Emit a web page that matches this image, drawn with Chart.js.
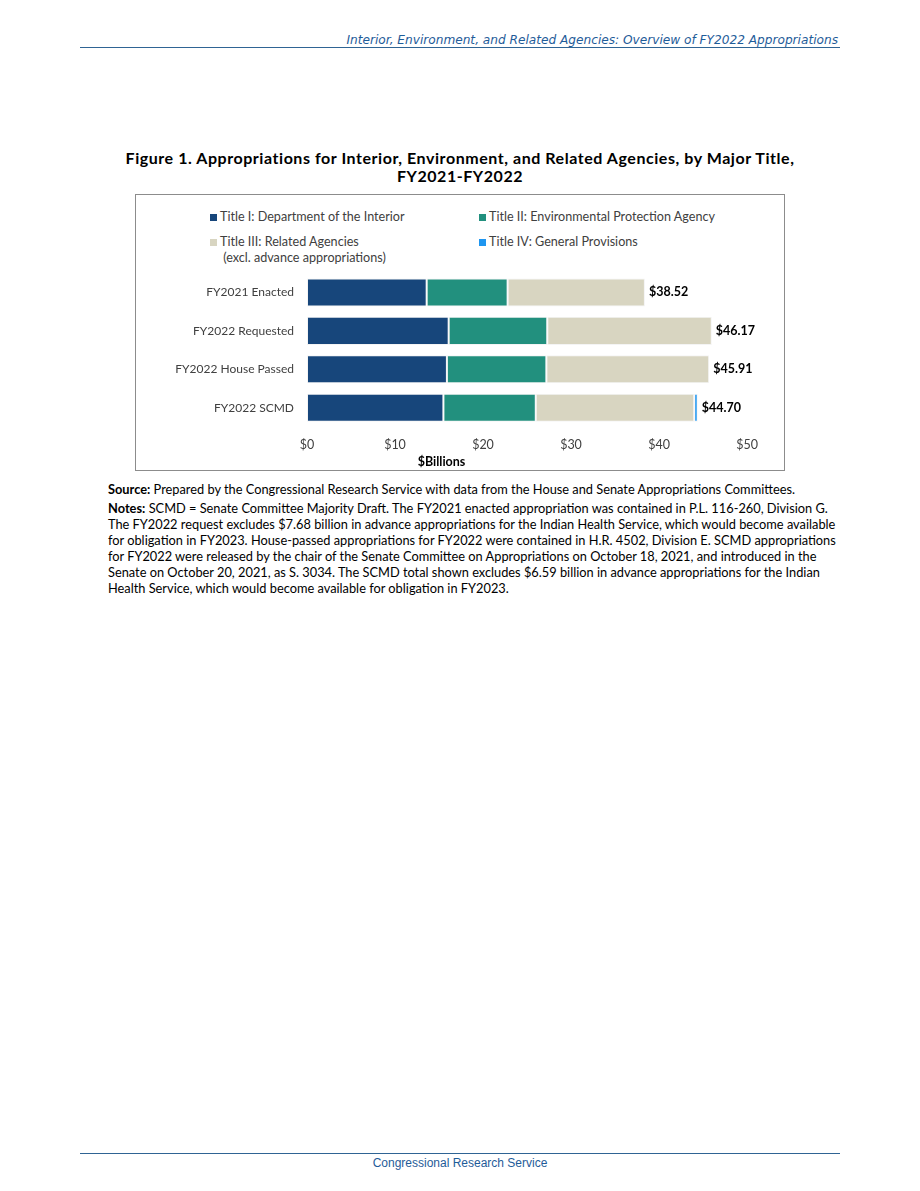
<!DOCTYPE html>
<html lang="en">
<head>
<meta charset="UTF-8">
<title>Figure 1. Appropriations for Interior, Environment, and Related Agencies</title>
<script src="https://cdn.jsdelivr.net/npm/chart.js"></script>
<style>
    body { margin: 0; background: #fff; }
    .page { position: relative; width: 920px; height: 1191px; font-family: Lato, "Open Sans", sans-serif; }
    .runhead { position: absolute; left: 80px; top: 33px; width: 758px; text-align: right;
               font-family: "DejaVu Sans", Verdana, sans-serif; font-style: italic; font-size: 12.15px; color: #1f5c99; }
    .rule { position: absolute; left: 80px; width: 760px; height: 0; border-top: 1px solid #2f6494; }
    .figtitle { position: absolute; left: 80px; width: 760px; text-align: center;
                font-weight: bold; font-size: 16px; letter-spacing: 0.55px; line-height: 18px; color: #000; }
    .box { position: absolute; left: 135px; top: 194px; width: 648px; height: 275px; border: 1px solid #8c8c8c; }
    .leg { position: absolute; font-size: 12.6px; color: #404040; line-height: 16px; white-space: nowrap; }
    .leg i { position: absolute; left: -10px; top: 5px; width: 7px; height: 7px; }
    #chartWrap { position: absolute; left: 0; top: 58px; width: 648px; height: 217px; }
    .notes { position: absolute; left: 108px; top: 481px; width: 740px; font-size: 12.8px; line-height: 16px; color: #000; }
    .notes p { margin: 0 0 3px 0; }
    .foot { position: absolute; left: 80px; width: 760px; top: 1156px; text-align: center;
            font-family: "Liberation Sans", Arial, sans-serif; font-size: 12px; color: #1f5c99; }
</style>
</head>
<body>
<div class="page">
    <div class="runhead">Interior, Environment, and Related Agencies: Overview of FY2022 Appropriations</div>
    <div class="rule" style="top:47px"></div>

    <div class="figtitle" style="top:149px">Figure 1. Appropriations for Interior, Environment, and Related Agencies, by Major Title,</div>
    <div class="figtitle" style="top:167px">FY2021-FY2022</div>

    <div class="box">
        <div id="legend"></div>
        <div id="chartWrap"><canvas id="chart"></canvas></div>
    </div>

    <div class="notes">
        <p><b>Source:</b> Prepared by the Congressional Research Service with data from the House and Senate Appropriations Committees.</p>
        <p><b>Notes:</b> SCMD = Senate Committee Majority Draft. The FY2021 enacted appropriation was contained in P.L. 116-260, Division G.<br>
        The FY2022 request excludes $7.68 billion in advance appropriations for the Indian Health Service, which would become available<br>
        for obligation in FY2023. House-passed appropriations for FY2022 were contained in H.R. 4502, Division E. SCMD appropriations<br>
        for FY2022 were released by the chair of the Senate Committee on Appropriations on October 18, 2021, and introduced in the<br>
        Senate on October 20, 2021, as S. 3034. The SCMD total shown excludes $6.59 billion in advance appropriations for the Indian<br>
        Health Service, which would become available for obligation in FY2023.</p>
    </div>

    <div class="rule" style="top:1153px"></div>
    <div class="foot">Congressional Research Service</div>
</div>

<script>
// data ($ billions)
const categories = ['FY2021 Enacted', 'FY2022 Requested', 'FY2022 House Passed', 'FY2022 SCMD'];
const titleI   = [13.6, 16.1, 15.9, 15.5];
const titleII  = [9.2, 11.2, 11.3, 10.5];
const titleIII = [15.6, 18.7, 18.5, 18.0];
const titleIV  = [0, 0, 0, 0.4];
const totalLabels = ['$38.52', '$46.17', '$45.91', '$44.70'];
const xTicks = [0, 10, 20, 30, 40, 50];

const series = [
    { label: 'Title I: Department of the Interior', data: titleI, color: '#17467b' },
    { label: 'Title II: Environmental Protection Agency', data: titleII, color: '#22907e' },
    { label: ['Title III: Related Agencies', '(excl. advance appropriations)'], data: titleIII, color: '#d8d5c1' },
    { label: 'Title IV: General Provisions', data: titleIV, color: '#1e96f0' }
];

// legend (two columns, as in the figure)
const legendPos = [[84, 14], [353, 14], [84, 39], [353, 39]];
const legendEl = document.getElementById('legend');
series.forEach((s, i) => {
    const d = document.createElement('div');
    d.className = 'leg';
    d.style.left = legendPos[i][0] + 'px';
    d.style.top = legendPos[i][1] + 'px';
    const txt = Array.isArray(s.label) ? s.label[0] + '<br>&nbsp;' + s.label[1] : s.label;
    d.innerHTML = '<i style="background:' + s.color + '"></i>' + txt;
    legendEl.appendChild(d);
});

const totalsPlugin = {
    id: 'totals',
    afterDatasetsDraw(chart) {
        const ctx = chart.ctx;
        const xs = chart.scales.x, ys = chart.scales.y;
        ctx.save();
        ctx.font = 'bold 12.5px Lato, sans-serif';
        ctx.fillStyle = '#000';
        ctx.textBaseline = 'middle';
        categories.forEach((c, i) => {
            const sum = chart.data.datasets.reduce((a, ds) => a + ds.data[i], 0);
            ctx.fillText(totalLabels[i], xs.getPixelForValue(sum) + 4, ys.getPixelForValue(i));
        });
        ctx.restore();
    }
};

new Chart(document.getElementById('chart'), {
    type: 'bar',
    data: {
        labels: categories,
        datasets: series.map(s => ({
            label: Array.isArray(s.label) ? s.label.join(' ') : s.label,
            data: s.data,
            backgroundColor: s.color,
            borderColor: '#f4f4f4',
            borderWidth: 1,
            borderSkipped: false,
            categoryPercentage: 0.73,
            barPercentage: 1
        }))
    },
    options: {
        indexAxis: 'y',
        responsive: true,
        maintainAspectRatio: false,
        animation: false,
        layout: { padding: { top: 0, right: 37, bottom: 1, left: 0 } },
        scales: {
            x: {
                stacked: true,
                min: 0, max: 50,
                afterBuildTicks: axis => { axis.ticks = xTicks.map(v => ({ value: v })); },
                ticks: { callback: v => '$' + v, color: '#404040', font: { family: 'Lato', size: 12.5 }, padding: 10 },
                grid: { display: false, drawTicks: false },
                border: { display: false }
            },
            y: {
                stacked: true,
                afterFit: axis => { axis.width = 171; },
                ticks: { color: '#404040', font: { family: 'Lato', size: 12 }, padding: 13 },
                grid: { display: false, drawTicks: false },
                border: { display: false }
            }
        },
        plugins: {
            legend: { display: false },
            tooltip: { enabled: false },
            title: {
                display: true,
                position: 'bottom',
                text: '$Billions',
                color: '#000',
                font: { family: 'Lato', size: 12.5, weight: 'bold' },
                padding: { top: -8, bottom: 0 }
            }
        }
    },
    plugins: [totalsPlugin]
});
</script>
</body>
</html>
